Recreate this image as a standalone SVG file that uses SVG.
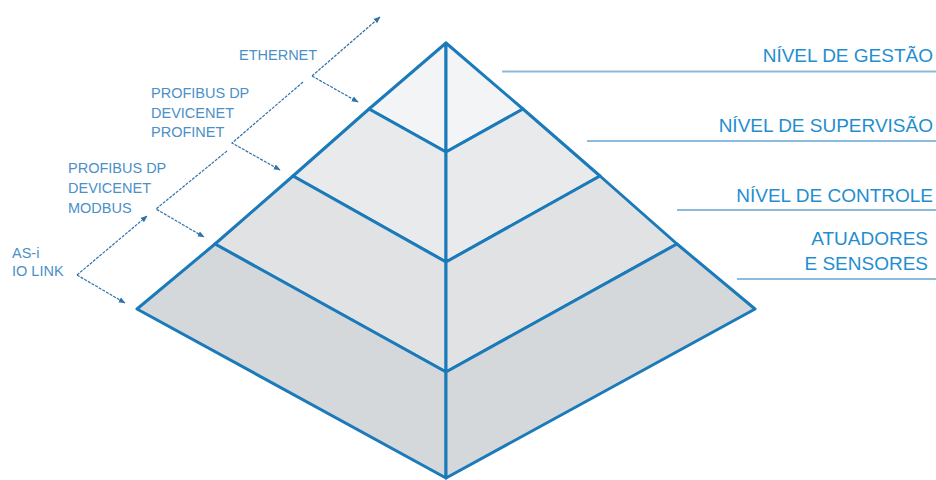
<svg xmlns="http://www.w3.org/2000/svg" width="936" height="480" viewBox="0 0 936 480">
<style>
.face{stroke:#1b7ab9;stroke-width:3;stroke-linejoin:round}
.f1{fill:#f2f4f6}.f2{fill:#e8eaec}.f3{fill:#e0e2e4}.f4{fill:#d5d8da}
.lvl{font-family:"Liberation Sans",Arial,sans-serif;font-size:19px;fill:#1f8ed0;text-anchor:end}
.rule{stroke:#8dbbdd;stroke-width:2;fill:none}
.net{font-family:"Liberation Sans",Arial,sans-serif;font-size:14.5px;fill:#4b90c7}
.conn{stroke:#2f72ab;stroke-width:1.2;fill:none;stroke-dasharray:3 1.2}
</style>
<defs>
<marker id="ah" viewBox="0 0 10 10" refX="9" refY="5" markerWidth="7" markerHeight="7" orient="auto" markerUnits="userSpaceOnUse">
<path d="M0,1 L10,5 L0,9 z" fill="#2f72ab"/>
</marker>
</defs>
<rect width="936" height="480" fill="#ffffff"/>

<g id="level-gestao">
<polygon class="face f1" points="446,43 369,109 446,152"/>
<polygon class="face f1" points="446,43 523,109 446,152"/>
</g>
<g id="level-supervisao">
<polygon class="face f2" points="369,109 293,176 446,262 446,152"/>
<polygon class="face f2" points="523,109 600,176 446,262 446,152"/>
</g>
<g id="level-controle">
<polygon class="face f3" points="293,176 215,244 446,372 446,262"/>
<polygon class="face f3" points="600,176 677,244 446,372 446,262"/>
</g>
<g id="level-sensores">
<polygon class="face f4" points="215,244 137,309 446,478 446,372"/>
<polygon class="face f4" points="677,244 755,309 446,478 446,372"/>
</g>

<g id="label-gestao">
<text class="lvl" x="933" y="62">NÍVEL DE GESTÃO</text>
<line class="rule" x1="502" y1="71.5" x2="936" y2="71.5"/>
</g>
<g id="label-supervisao">
<text class="lvl" x="933" y="132">NÍVEL DE SUPERVISÃO</text>
<line class="rule" x1="587" y1="141" x2="936" y2="141"/>
</g>
<g id="label-controle">
<text class="lvl" x="933" y="202">NÍVEL DE CONTROLE</text>
<line class="rule" x1="677" y1="210" x2="936" y2="210"/>
</g>
<g id="label-sensores">
<text class="lvl" x="928" y="245">ATUADORES</text>
<text class="lvl" x="928" y="270">E SENSORES</text>
<line class="rule" x1="737" y1="279" x2="936" y2="279"/>
</g>

<g id="net-ethernet">
<text class="net" x="239" y="60">ETHERNET</text>
</g>
<g id="net-profinet">
<text class="net" x="151" y="98">PROFIBUS DP</text>
<text class="net" x="151" y="118">DEVICENET</text>
<text class="net" x="151" y="137">PROFINET</text>
</g>
<g id="net-modbus">
<text class="net" x="68" y="173">PROFIBUS DP</text>
<text class="net" x="68" y="193">DEVICENET</text>
<text class="net" x="68" y="213">MODBUS</text>
</g>
<g id="net-asi">
<text class="net" x="12" y="258">AS-i</text>
<text class="net" x="12" y="276">IO LINK</text>
</g>

<g id="connectors">
<line class="conn" x1="312" y1="76" x2="380" y2="17" marker-end="url(#ah)"/>
<line class="conn" x1="312" y1="76" x2="358" y2="102" marker-end="url(#ah)"/>
<polyline class="conn" points="303,82 232,143 280,170" marker-end="url(#ah)"/>
<polyline class="conn" points="227,151 156,209 204,237" marker-end="url(#ah)"/>
<line class="conn" x1="77" y1="275" x2="147" y2="216" marker-end="url(#ah)"/>
<line class="conn" x1="77" y1="275" x2="125" y2="303" marker-end="url(#ah)"/>
</g>
</svg>
